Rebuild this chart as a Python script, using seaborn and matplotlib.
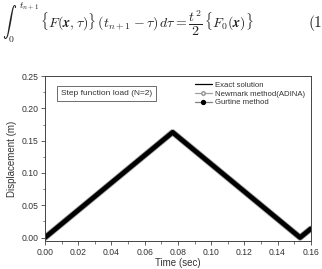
import matplotlib
matplotlib.use("Agg")
import matplotlib.pyplot as plt
from matplotlib.ticker import MultipleLocator
import seaborn as sns
import pandas as pd

# vertices of the triangular response
time_sec = [0.0, 0.0768, 0.1536, 0.16]
exact = [0.0, 0.163, 0.0, 0.0135]
newmark = [0.0, 0.163, 0.0, 0.0135]
gurtine = [0.0, 0.163, 0.0, 0.0135]

xticks = [0.00, 0.02, 0.04, 0.06, 0.08, 0.10, 0.12, 0.14, 0.16]
yticks = [0.00, 0.05, 0.10, 0.15, 0.20, 0.25]

sns.set_style("ticks")
plt.rcParams['font.family'] = ['Liberation Sans', 'DejaVu Sans']
plt.rcParams['mathtext.fontset'] = 'cm'

df = pd.DataFrame({'t': time_sec, 'exact': exact, 'newmark': newmark, 'gurtine': gurtine})

fig = plt.figure(figsize=(3.22, 2.69), dpi=100)
ax = fig.add_axes([0.14, 0.105, 0.825, 0.612])

# thick lines stand in for the densely packed markers of the original
sns.lineplot(data=df, x='t', y='newmark', ax=ax, color='#a0a0a0', lw=4.6)
sns.lineplot(data=df, x='t', y='gurtine', ax=ax, color='black', lw=3.4)
sns.lineplot(data=df, x='t', y='exact', ax=ax, color='black', lw=1.0)

ax.set_xlim(0, 0.16)
ax.set_ylim(-0.005, 0.25)
ax.set_xticks(xticks)
ax.set_yticks(yticks)
ax.xaxis.set_minor_locator(MultipleLocator(0.01))
ax.yaxis.set_minor_locator(MultipleLocator(0.025))
ax.set_xticklabels([f"{v:.2f}" for v in xticks])
ax.set_yticklabels([f"{v:.2f}" for v in yticks])
ax.tick_params(axis='both', which='major', labelsize=6.2, length=3, width=0.6,
               color='#444444', labelcolor='#333333', pad=2)
ax.tick_params(axis='both', which='minor', length=1.8, width=0.5, color='#444444')
for s in ax.spines.values():
    s.set_linewidth(0.7)
    s.set_color('#444444')
ax.set_xlabel('Time (sec)', fontsize=7, color='#333333', labelpad=1)
ax.set_ylabel('Displacement (m)', fontsize=7, color='#333333', labelpad=3)

leg_handles = [
    plt.Line2D([], [], color='black', lw=0.9),
    plt.Line2D([], [], color='#a0a0a0', lw=0.9, marker='o', ms=2.5, mfc='white', mec='#909090'),
    plt.Line2D([], [], color='#808080', lw=0.9, marker='o', ms=2.8, mfc='black', mec='black'),
]
ax.legend(leg_handles, ['Exact solution', 'Newmark method(ADINA)', 'Gurtine method'],
          loc='upper right', frameon=False, fontsize=5.6, handlelength=2.2,
          handletextpad=0.4, labelspacing=0.15, borderaxespad=0.3, labelcolor='#333333')

ax.text(0.06, 0.895, 'Step function load (N=2)', transform=ax.transAxes, fontsize=6,
        color='#333333', va='center', ha='left',
        bbox=dict(boxstyle='square,pad=0.5', fc='white', ec='#555555', lw=0.6))

fig.text(0.005, 0.915,
         r'$\int_0^{\,t_{n+1}}\,\{F(\boldsymbol{x},\tau)\}\,(t_{n+1}-\tau)\,d\tau=\dfrac{t^2}{2}\,\{F_0(\boldsymbol{x})\}$',
         fontsize=10, va='center', ha='left', color='#222222')
fig.text(0.955, 0.915, r'$\mathrm{(1}$', fontsize=11, va='center', ha='left', color='#222222')

fig.savefig('out.png', dpi=100)
